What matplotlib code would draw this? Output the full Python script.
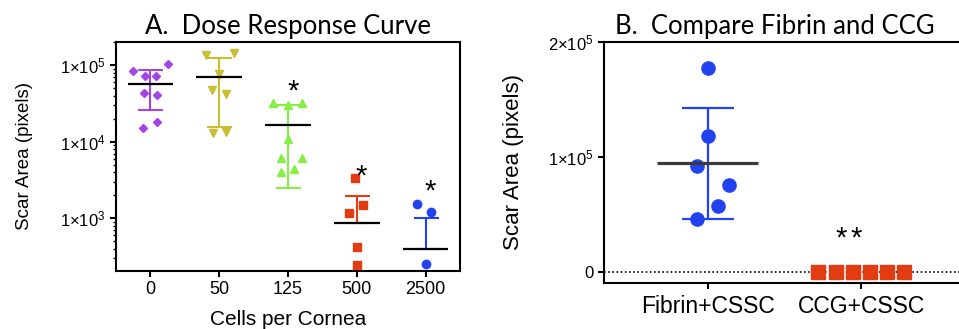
import matplotlib.pyplot as plt
import numpy as np

plt.rcParams['font.family'] = ['Liberation Sans', 'DejaVu Sans']
plt.rcParams['mathtext.fontset'] = 'custom'
plt.rcParams['mathtext.rm'] = 'Liberation Sans'
plt.rcParams['axes.linewidth'] = 1.5

# --- Panel A: dose response (log scale)
doses = ['0', '50', '125', '500', '2500']
a_values = [
    [83600, 72000, 72000, 103000, 43500, 40600, 15000, 18200],
    [135000, 144500, 76400, 47200, 41900, 12850, 13500],
    [32200, 32200, 30000, 10700, 6080, 6080, 4070, 4400],
    [3340, 1500, 1190, 420, 247],
    [1540, 1220, 254],
]
a_mean = [56500, 70300, 16500, 864, 399]
a_sd = [30700, 54500, 14000, 1100, 600]
a_stars = ['', '', '*', '*', '*']
a_star_y = [None, None, 45300, 3530, 2270]

# --- Panel B: fibrin vs CCG (linear scale)
groups_b = ['Fibrin+CSSC', 'CCG+CSSC']
b_values = [
    [177700, 118000, 92200, 75100, 57400, 45800],
    [0, 0, 0, 0, 0, 0],
]
b_mean = [94300, 0]
b_sd = [48400, 0]
b_stars = ['', '**']
b_star_y = [None, 28300]

# horizontal scatter offsets (layout only)
a_jitter = [
    [-0.26, -0.083, 0.077, 0.255, -0.097, 0.1, -0.107, 0.1],
    [-0.193, 0.208, -0.01, -0.106, 0.097, -0.097, 0.097],
    [-0.213, 0.198, 0.0, 0.0, -0.1, 0.198, -0.1, 0.09],
    [-0.02, 0.09, -0.116, 0.0, 0.0],
    [-0.12, 0.08, 0.0],
]
b_jitter = [
    [0.0, 0.0, -0.07, 0.14, 0.07, -0.07],
    [-0.28, -0.168, -0.056, 0.056, 0.168, 0.28],
]

a_colors = ['#a444e6', '#c8bf34', '#86ee44', '#e23c12', '#2242f0']
a_markers = ['D', 'v', '^', 's', 'o']
a_msize = [4.5, 6, 6, 5.2, 6]

W, H = 959, 329
fig = plt.figure(figsize=(W / 100, H / 100), dpi=100)


def px_axes(left, right, top, bottom):
    return fig.add_axes([left / W, 1 - bottom / H, (right - left) / W, (bottom - top) / H])


ax1 = px_axes(116, 460, 42, 271)
for i in range(len(doses)):
    x = i + np.array(a_jitter[i])
    ax1.plot(x, a_values[i], linestyle='none', marker=a_markers[i], ms=a_msize[i],
             color=a_colors[i], mec=a_colors[i], zorder=3)
    m, s = a_mean[i], a_sd[i]
    lo = s if m - s > 0 else 0
    ax1.errorbar(i, m, yerr=[[lo], [s]], color=a_colors[i], capsize=9,
                 elinewidth=1.5, capthick=1.5, zorder=2)
    ax1.hlines(m, i - 0.33, i + 0.33, color='black', lw=1.6, zorder=4)
    if a_stars[i]:
        ax1.text(i + 0.07, a_star_y[i], a_stars[i], ha='center', va='center', fontsize=21)

ax1.set_yscale('log')
ax1.set_ylim(206, 2e5)
ax1.set_xlim(-0.5, 4.5)
ax1.set_yticks([1e3, 1e4, 1e5])
ax1.set_yticklabels([r'$\mathregular{1{\times}10^3}$', r'$\mathregular{1{\times}10^4}$',
                     r'$\mathregular{1{\times}10^5}$'], fontsize=12)
ax1.set_xticks(range(len(doses)))
ax1.set_xticklabels(doses, fontsize=13)
ax1.tick_params(axis='both', which='major', length=4.5, width=1.5, pad=3)
ax1.tick_params(axis='y', which='minor', length=2.2, width=1)
ax1.tick_params(axis='x', which='minor', length=0)
ax1.set_ylabel('Scar Area (pixels)', fontsize=13.5, labelpad=19)
ax1.set_xlabel('Cells per Cornea', fontsize=15, labelpad=8)
ax1.set_title('A.  Dose Response Curve', fontsize=18.5, family='Lato', pad=6)

ax2 = px_axes(604, 965, 42, 283)
b_colors = ['#2242f0', '#e23c12']
b_markers = ['o', 's']
for i in range(len(groups_b)):
    x = i + np.array(b_jitter[i])
    ax2.plot(x, b_values[i], linestyle='none', marker=b_markers[i], ms=[9.5, 10][i],
             color=b_colors[i], mec=b_colors[i], zorder=3, clip_on=False)
    if b_sd[i] > 0:
        ax2.errorbar(i, b_mean[i], yerr=b_sd[i], color=b_colors[i], capsize=19,
                     elinewidth=1.6, capthick=1.6, zorder=2)
        ax2.hlines(b_mean[i], i - 0.33, i + 0.33, color='#3a3a3a', lw=2.3, zorder=4)
    for k, star in enumerate(b_stars[i]):
        ax2.text(i - 0.083 + (k - (len(b_stars[i]) - 1) / 2) * 0.098, b_star_y[i], star,
                 ha='center', va='center', fontsize=21)

ax2.axhline(0, color='black', lw=1.2, linestyle=(0, (1, 1.5)), zorder=1)
ax2.set_ylim(-10000, 200000)
ax2.set_xlim(-0.675, 1.675)
ax2.set_yticks([0, 1e5, 2e5])
ax2.set_yticklabels(['0', r'$\mathregular{1{\times}10^5}$', r'$\mathregular{2{\times}10^5}$'],
                    fontsize=12)
ax2.set_xticks(range(len(groups_b)))
ax2.set_xticklabels(groups_b, fontsize=16.5)
ax2.tick_params(axis='both', length=4.5, width=1.5, pad=3)
ax2.tick_params(axis='x', pad=4)
ax2.set_ylabel('Scar Area (pixels)', fontsize=16, labelpad=17)
ax2.set_title('B.  Compare Fibrin and CCG', fontsize=18.5, family='Lato', x=0.474, pad=6)

fig.savefig('out.png', dpi=100)
